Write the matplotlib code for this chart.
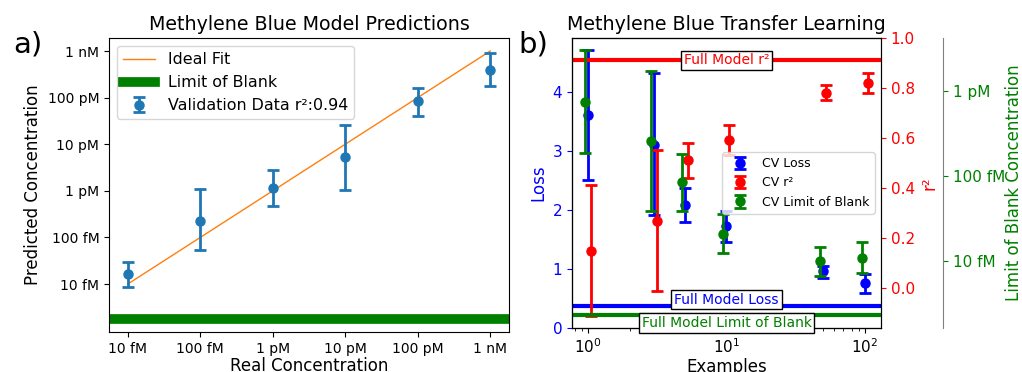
import numpy as np
import matplotlib
matplotlib.use("Agg")
import matplotlib.pyplot as plt
from matplotlib.ticker import FixedLocator, FixedFormatter, NullLocator


# Panel a) data (molar concentrations)
real_conc = [1e-14, 1e-13, 1e-12, 1e-11, 1e-10, 1e-9]
pred_conc = [16.6e-15, 230e-15, 1.17e-12, 5.2e-12, 85e-12, 390e-12]
pred_hi = [30e-15, 1.07e-12, 2.8e-12, 26e-12, 165e-12, 920e-12]
pred_lo = [8.7e-15, 55e-15, 0.47e-12, 1.04e-12, 41e-12, 180e-12]
conc_labels = ["10 fM", "100 fM", "1 pM", "10 pM", "100 pM", "1 nM"]
blank_a = 1.8e-15

# Panel b) data
examples = [1, 3, 5, 10, 50, 100]
loss = [3.62, 3.11, 2.09, 1.73, 0.96, 0.76]
loss_hi = [4.72, 4.32, 2.38, 1.99, 1.06, 0.92]
loss_lo = [2.51, 1.91, 1.79, 1.46, 0.85, 0.60]
r2 = [0.15, 0.27, 0.51, 0.59, 0.78, 0.82]
r2_hi = [0.41, 0.55, 0.58, 0.65, 0.81, 0.86]
r2_lo = [-0.11, -0.013, 0.44, 0.53, 0.75, 0.78]
lob = [0.76e-12, 0.257e-12, 85e-15, 21e-15, 10e-15, 10.8e-15]
lob_hi = [3.1e-12, 1.73e-12, 184e-15, 36e-15, 14.5e-15, 16.6e-15]
lob_lo = [0.19e-12, 39e-15, 39e-15, 12.6e-15, 6.7e-15, 7.2e-15]
lob_ticks = [1e-14, 1e-13, 1e-12]
lob_labels = ["10 fM", "100 fM", "1 pM"]
full_loss = 0.38
full_r2 = 0.91
full_lob = 2.3e-15


def err(v, lo, hi):
    v, lo, hi = np.array(v), np.array(lo), np.array(hi)
    return [v - lo, hi - v]


W, H = 1022, 372


def rect(l, t, r, b):
    return [l / W, 1 - b / H, (r - l) / W, (b - t) / H]


fig = plt.figure(figsize=(10.22, 3.72), dpi=100)

# ---- a) model predictions
ax1 = fig.add_axes(rect(109, 38, 509, 332))
ax1.set_xscale("log")
ax1.set_yscale("log")
ax1.plot(real_conc, real_conc, color="C1", lw=1, label="Ideal Fit")
ax1.axhline(blank_a, color="green", lw=7, label="Limit of Blank")
ax1.errorbar(real_conc, pred_conc, yerr=err(pred_conc, pred_lo, pred_hi),
             fmt="o", color="C0", ms=6.5, elinewidth=2, capsize=4, capthick=2,
             label="Validation Data r²:0.94")
ax1.set_xlim(10 ** -14.26, 10 ** -8.74)
ax1.set_ylim(10 ** -15.03, 10 ** -8.72)
for axis in (ax1.xaxis, ax1.yaxis):
    axis.set_major_locator(FixedLocator(real_conc))
    axis.set_major_formatter(FixedFormatter(conc_labels))
    axis.set_minor_locator(NullLocator())
ax1.tick_params(labelsize=10)
ax1.set_xlabel("Real Concentration", fontsize=12, labelpad=1)
ax1.set_ylabel("Predicted Concentration", fontsize=12)
ax1.set_title("Methylene Blue Model Predictions", fontsize=13.7)
ax1.legend(loc="upper left", fontsize=11.4)
fig.text(13 / W, 1 - 45 / H, "a)", fontsize=21, va="center")

# ---- b) transfer learning
ex = np.array(examples, dtype=float)
ax2 = fig.add_axes(rect(572, 38, 881, 328))
ax3 = ax2.twinx()
ax4 = ax2.twinx()
ax4.spines["right"].set_position(("axes", 1.2))
ax4.spines["right"].set_color("gray")

h1 = ax2.errorbar(ex, loss, yerr=err(loss, loss_lo, loss_hi), fmt="o",
                  color="blue", ms=6.5, elinewidth=2, capsize=4, capthick=2,
                  label="CV Loss")
ax2.axhline(full_loss, color="blue", lw=3)
h2 = ax3.errorbar(ex * 1.05, r2, yerr=err(r2, r2_lo, r2_hi), fmt="o",
                  color="red", ms=6.5, elinewidth=2, capsize=4, capthick=2,
                  label="CV r²")
ax3.axhline(full_r2, color="red", lw=3)
h3 = ax4.errorbar(ex * 0.95, lob, yerr=err(lob, lob_lo, lob_hi), fmt="o",
                  color="green", ms=6.5, elinewidth=2, capsize=4, capthick=2,
                  label="CV Limit of Blank")
ax4.axhline(full_lob, color="green", lw=3)

ax2.set_xscale("log")
ax2.set_xlim(0.766, 130.6)
ax2.set_ylim(0, 4.92)
ax3.set_ylim(-0.16, 1.0)
ax4.set_yscale("log")
ax4.set_ylim(10 ** -14.79, 10 ** -11.37)
ax4.yaxis.set_major_locator(FixedLocator(lob_ticks))
ax4.yaxis.set_major_formatter(FixedFormatter(lob_labels))
ax4.yaxis.set_minor_locator(NullLocator())

ax2.tick_params(axis="y", colors="blue", labelsize=11)
ax2.tick_params(axis="x", labelsize=11)
ax3.tick_params(axis="y", colors="red", labelsize=11)
ax4.tick_params(axis="y", colors="green", labelsize=11)

ax2.set_xlabel("Examples", fontsize=12, labelpad=1)
ax2.set_ylabel("Loss", color="blue", fontsize=12)
ax3.set_ylabel("r²", color="red", fontsize=12)
ax4.set_ylabel("Limit of Blank Concentration", color="green", fontsize=12,
               labelpad=0)
ax2.set_title("Methylene Blue Transfer Learning", fontsize=13.7)

box = dict(facecolor="white", edgecolor="black", pad=2)
ax3.text(0.5, full_r2, "Full Model r²", color="red", fontsize=10,
         ha="center", va="center", bbox=box, transform=ax3.get_yaxis_transform())
ax2.text(0.5, 0.48, "Full Model Loss", color="blue", fontsize=10,
         ha="center", va="center", bbox=box, transform=ax2.get_yaxis_transform())
ax4.text(0.5, 1.86e-15, "Full Model Limit of Blank", color="green", fontsize=10,
         ha="center", va="center", bbox=box, transform=ax4.get_yaxis_transform(),
         clip_on=False)

ax4.legend([h1, h2, h3], ["CV Loss", "CV r²", "CV Limit of Blank"],
           loc="center right", fontsize=9)
fig.text(518 / W, 1 - 45 / H, "b)", fontsize=21, va="center")

fig.savefig("out.png", dpi=100)
